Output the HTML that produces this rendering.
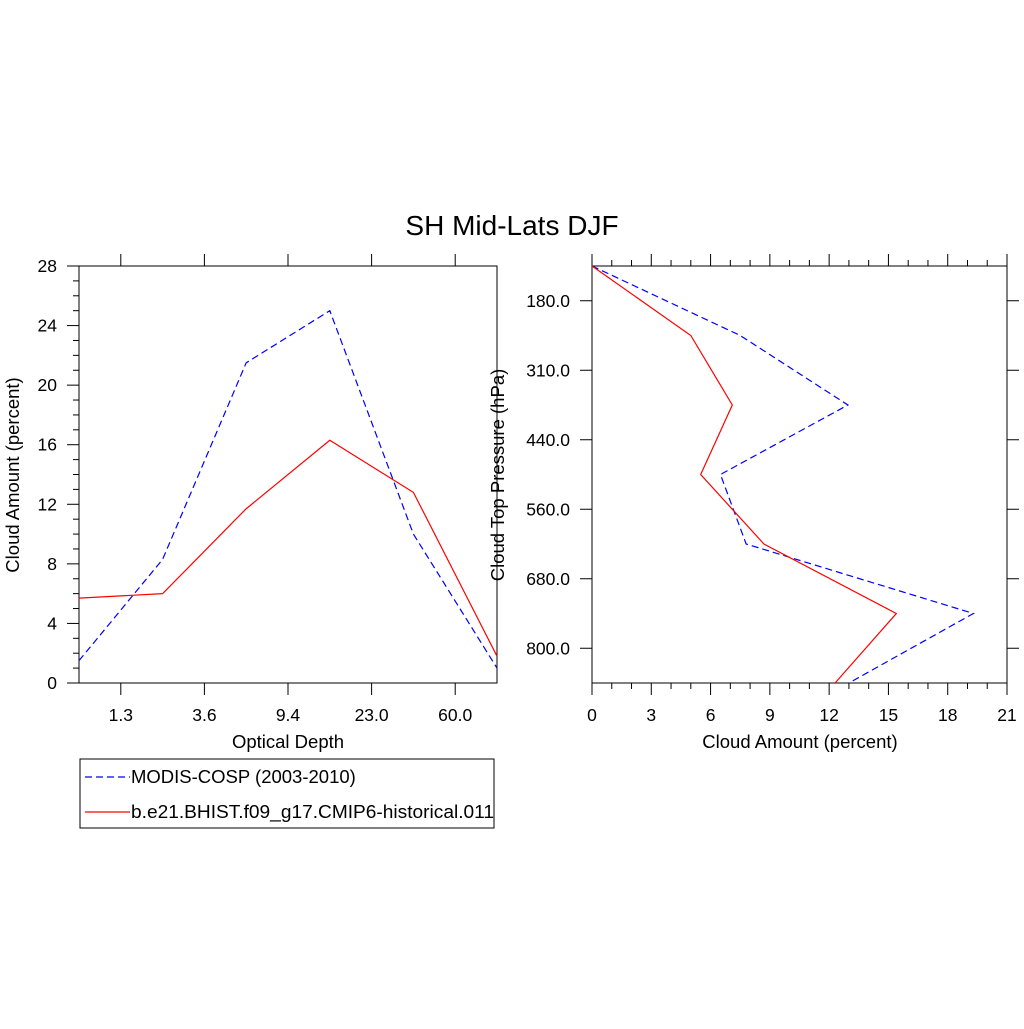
<!DOCTYPE html>
<html><head><meta charset="utf-8"><style>
body{margin:0;background:#fff}
svg text{font-family:"Liberation Sans",sans-serif;fill:#000}
</style></head><body>
<svg id="chart" width="1024" height="1024">
<text x="512" y="235" font-size="28" text-anchor="middle">SH Mid-Lats DJF</text>
<g id="left"></g>
<g id="right"></g>
<g>
<rect x="80" y="759" width="414" height="69" fill="none" stroke="#000" stroke-width="1"/>
<g>
<line x1="85" y1="777" x2="130" y2="777" stroke="#00f" stroke-width="1.2" stroke-dasharray="7,4"/>
<text x="131" y="783" font-size="18.5">MODIS-COSP (2003-2010)</text></g>
<g>
<line x1="85" y1="812" x2="130" y2="812" stroke="#f00" stroke-width="1.2"/>
<text x="131" y="818" font-size="18.5" textLength="363" lengthAdjust="spacingAndGlyphs">b.e21.BHIST.f09_g17.CMIP6-historical.011</text></g>
</g>
</svg>
<script>
const leftXLabels=["1.3","3.6","9.4","23.0","60.0"];
const leftYTicks=[0,4,8,12,16,20,24,28];
const leftObs=[1.5,8.3,21.5,25.0,10.0,1.0];
const leftModel=[5.7,6.0,11.7,16.3,12.8,1.8];
const rightYLabels=["180.0","310.0","440.0","560.0","680.0","800.0"];
const rightXTicks=[0,3,6,9,12,15,18,21];
const rightObs=[0,7.5,12.95,6.5,7.8,19.3,13.0];
const rightModel=[0,5.0,7.1,5.5,8.7,15.4,12.3];
const NS="http://www.w3.org/2000/svg";
function el(p,t,a){const e=document.createElementNS(NS,t);for(const k in a)e.setAttribute(k,a[k]);p.appendChild(e);return e;}
const TF=17.5, AF=18.5;
// left
const L=document.getElementById('left');
const lx0=79,lx1=497,ly0=266,ly1=683;
const lxs=i=>lx0+(lx1-lx0)*i/(leftObs.length-1);
const lys=v=>ly1-(ly1-ly0)*v/28;
const lf=el(L,'rect',{x:lx0,y:ly0,width:lx1-lx0,height:ly1-ly0,fill:'none',stroke:'#000','stroke-width':1});

for(let v=0;v<=28;v++){const y=lys(v);const maj=v%4===0;el(L,'line',{x1:lx0,x2:lx0-(maj?12:6),y1:y,y2:y,stroke:'#000'});}
leftYTicks.forEach(v=>{const t=el(L,'text',{x:lx0-22,y:lys(v)+6,'font-size':TF,'text-anchor':'end'});t.textContent=v;
});
leftXLabels.forEach((s,i)=>{const x=(lxs(i)+lxs(i+1))/2;
el(L,'line',{x1:x,x2:x,y1:ly1,y2:ly1+12,stroke:'#000'});el(L,'line',{x1:x,x2:x,y1:ly0,y2:ly0-12,stroke:'#000'});
const t=el(L,'text',{x:x,y:ly1+38,'font-size':TF,'text-anchor':'middle'});t.textContent=s;
});
let t=el(L,'text',{x:288,y:748,'font-size':AF,'text-anchor':'middle'});t.textContent='Optical Depth';

t=el(L,'text',{x:0,y:0,'font-size':AF,'text-anchor':'middle',transform:'translate(19,475) rotate(-90)'});t.textContent='Cloud Amount (percent)';

let p=el(L,'polyline',{points:leftObs.map((v,i)=>lxs(i)+','+lys(v)).join(' '),fill:'none',stroke:'#00f','stroke-width':1.2,'stroke-dasharray':'7,4'});

p=el(L,'polyline',{points:leftModel.map((v,i)=>lxs(i)+','+lys(v)).join(' '),fill:'none',stroke:'#f00','stroke-width':1.2});

// right
const R=document.getElementById('right');
const rx0=592,rx1=1007,ry0=266,ry1=683;
const rxs=v=>rx0+(rx1-rx0)*v/21;
const rys=i=>ry0+(ry1-ry0)*i/(rightObs.length-1);
const rf=el(R,'rect',{x:rx0,y:ry0,width:rx1-rx0,height:ry1-ry0,fill:'none',stroke:'#000','stroke-width':1});

for(let v=0;v<=21;v++){const x=rxs(v);const maj=v%3===0;
el(R,'line',{x1:x,x2:x,y1:ry1,y2:ry1+(maj?12:6),stroke:'#000'});el(R,'line',{x1:x,x2:x,y1:ry0,y2:ry0-(maj?12:6),stroke:'#000'});}
rightXTicks.forEach(v=>{const t=el(R,'text',{x:rxs(v),y:ry1+38,'font-size':TF,'text-anchor':'middle'});t.textContent=v;
});
rightYLabels.forEach((s,i)=>{const y=(rys(i)+rys(i+1))/2;
el(R,'line',{x1:rx0,x2:rx0-12,y1:y,y2:y,stroke:'#000'});el(R,'line',{x1:rx1,x2:rx1+12,y1:y,y2:y,stroke:'#000'});
const t=el(R,'text',{x:rx0-22,y:y+6,'font-size':TF,'text-anchor':'end'});t.textContent=s;
});
t=el(R,'text',{x:800,y:748,'font-size':AF,'text-anchor':'middle'});t.textContent='Cloud Amount (percent)';

t=el(R,'text',{x:0,y:0,'font-size':AF,'text-anchor':'middle',transform:'translate(504,475) rotate(-90)'});t.textContent='Cloud Top Pressure (hPa)';

p=el(R,'polyline',{points:rightObs.map((v,i)=>rxs(v)+','+rys(i)).join(' '),fill:'none',stroke:'#00f','stroke-width':1.2,'stroke-dasharray':'7,4'});

p=el(R,'polyline',{points:rightModel.map((v,i)=>rxs(v)+','+rys(i)).join(' '),fill:'none',stroke:'#f00','stroke-width':1.2});

</script>
</body></html>
